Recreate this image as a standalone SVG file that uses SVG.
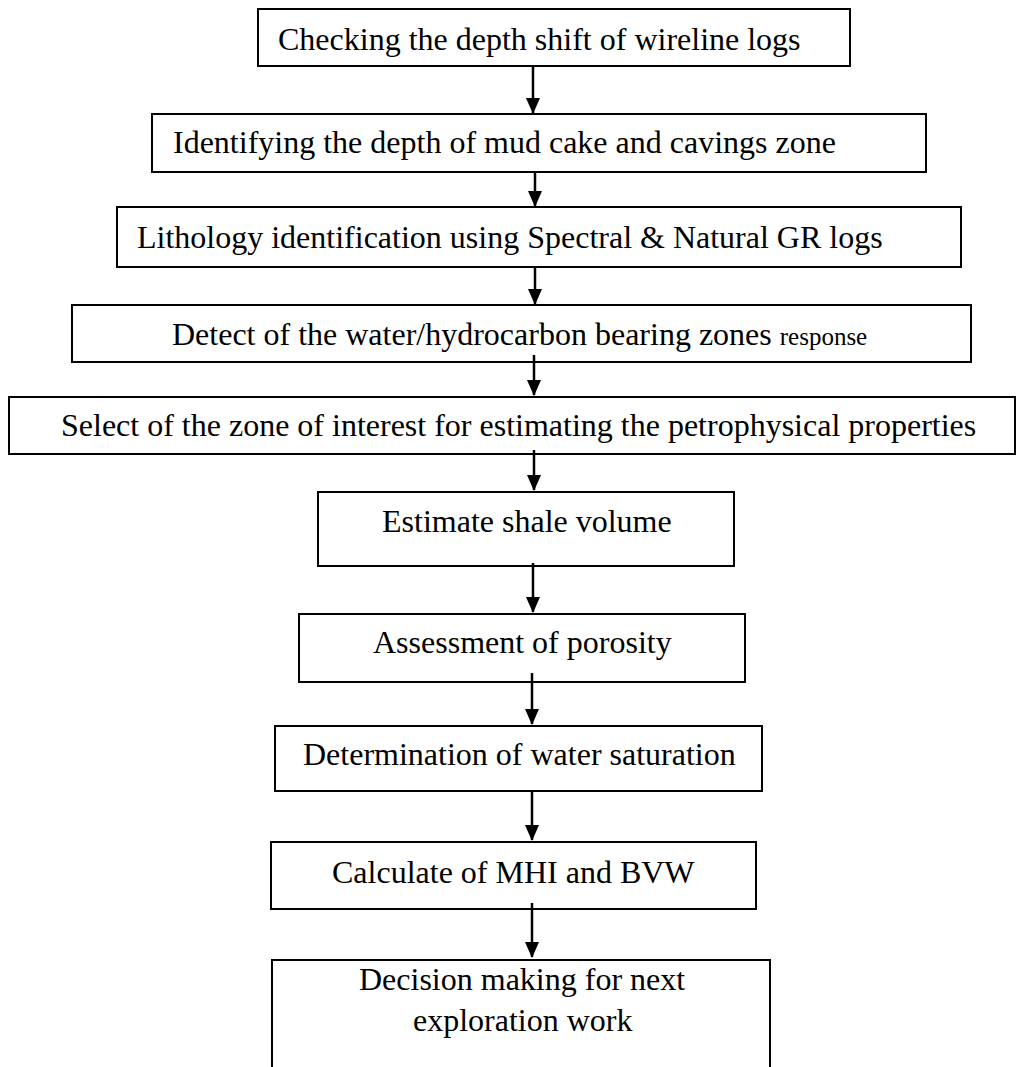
<svg xmlns="http://www.w3.org/2000/svg" width="1016" height="1067" viewBox="0 0 1016 1067">
<style>
  .box { fill: #ffffff; stroke: #000000; stroke-width: 2; }
  .lbl { font-family: "Liberation Serif", "Times New Roman", serif; font-size: 32px; fill: #000000; }
  .small { font-size: 25px; }
  .conn { stroke: #000000; stroke-width: 2.5; fill: none; marker-end: url(#arrow); }
</style>
<defs>
  <marker id="arrow" markerUnits="userSpaceOnUse" markerWidth="16" markerHeight="14" refX="15" refY="7" orient="auto" viewBox="0 0 16 14">
    <path d="M0,0 L16,7 L0,14 Z" fill="#000000"/>
  </marker>
</defs>
<rect width="1016" height="1067" fill="#ffffff"/>

<g id="n1"><rect class="box" x="258" y="9" width="592" height="57"/><text class="lbl" x="278" y="50">Checking the depth shift of wireline logs</text></g>
<g id="n2"><rect class="box" x="152" y="114" width="774" height="58"/><text class="lbl" x="173" y="153">Identifying the depth of mud cake and cavings zone</text></g>
<g id="n3"><rect class="box" x="117" y="207" width="844" height="60"/><text class="lbl" x="137" y="248">Lithology identification using Spectral &amp; Natural GR logs</text></g>
<g id="n4"><rect class="box" x="72" y="305" width="899" height="57"/><text class="lbl" x="172" y="345">Detect of the water/hydrocarbon bearing zones <tspan class="small">response</tspan></text></g>
<g id="n5"><rect class="box" x="9" y="397" width="1006" height="57"/><text class="lbl" x="61" y="436">Select of the zone of interest for estimating the petrophysical properties</text></g>
<g id="n6"><rect class="box" x="318" y="492" width="416" height="74"/><text class="lbl" x="382" y="532">Estimate shale volume</text></g>
<g id="n7"><rect class="box" x="299" y="614" width="446" height="68"/><text class="lbl" x="373" y="653">Assessment of porosity</text></g>
<g id="n8"><rect class="box" x="275" y="726" width="487" height="65"/><text class="lbl" x="303" y="765">Determination of water saturation</text></g>
<g id="n9"><rect class="box" x="271" y="842" width="485" height="67"/><text class="lbl" x="332" y="883">Calculate of MHI and BVW</text></g>
<g id="n10"><path d="M272,1070 L272,960 L770,960 L770,1070" fill="#ffffff" stroke="#000000" stroke-width="2"/><text class="lbl" x="359" y="990">Decision making for next</text><text class="lbl" x="413" y="1031">exploration work</text></g>

<g id="connectors">
  <line class="conn" x1="533" y1="66" x2="533" y2="113"/>
  <line class="conn" x1="535" y1="172" x2="535" y2="206"/>
  <line class="conn" x1="535" y1="267" x2="535" y2="304"/>
  <line class="conn" x1="534" y1="355" x2="534" y2="395"/>
  <line class="conn" x1="534" y1="450" x2="534" y2="490"/>
  <line class="conn" x1="533" y1="563" x2="533" y2="612"/>
  <line class="conn" x1="532" y1="673" x2="532" y2="724"/>
  <line class="conn" x1="532" y1="791" x2="532" y2="840"/>
  <line class="conn" x1="532" y1="903" x2="532" y2="957"/>
</g>
</svg>
